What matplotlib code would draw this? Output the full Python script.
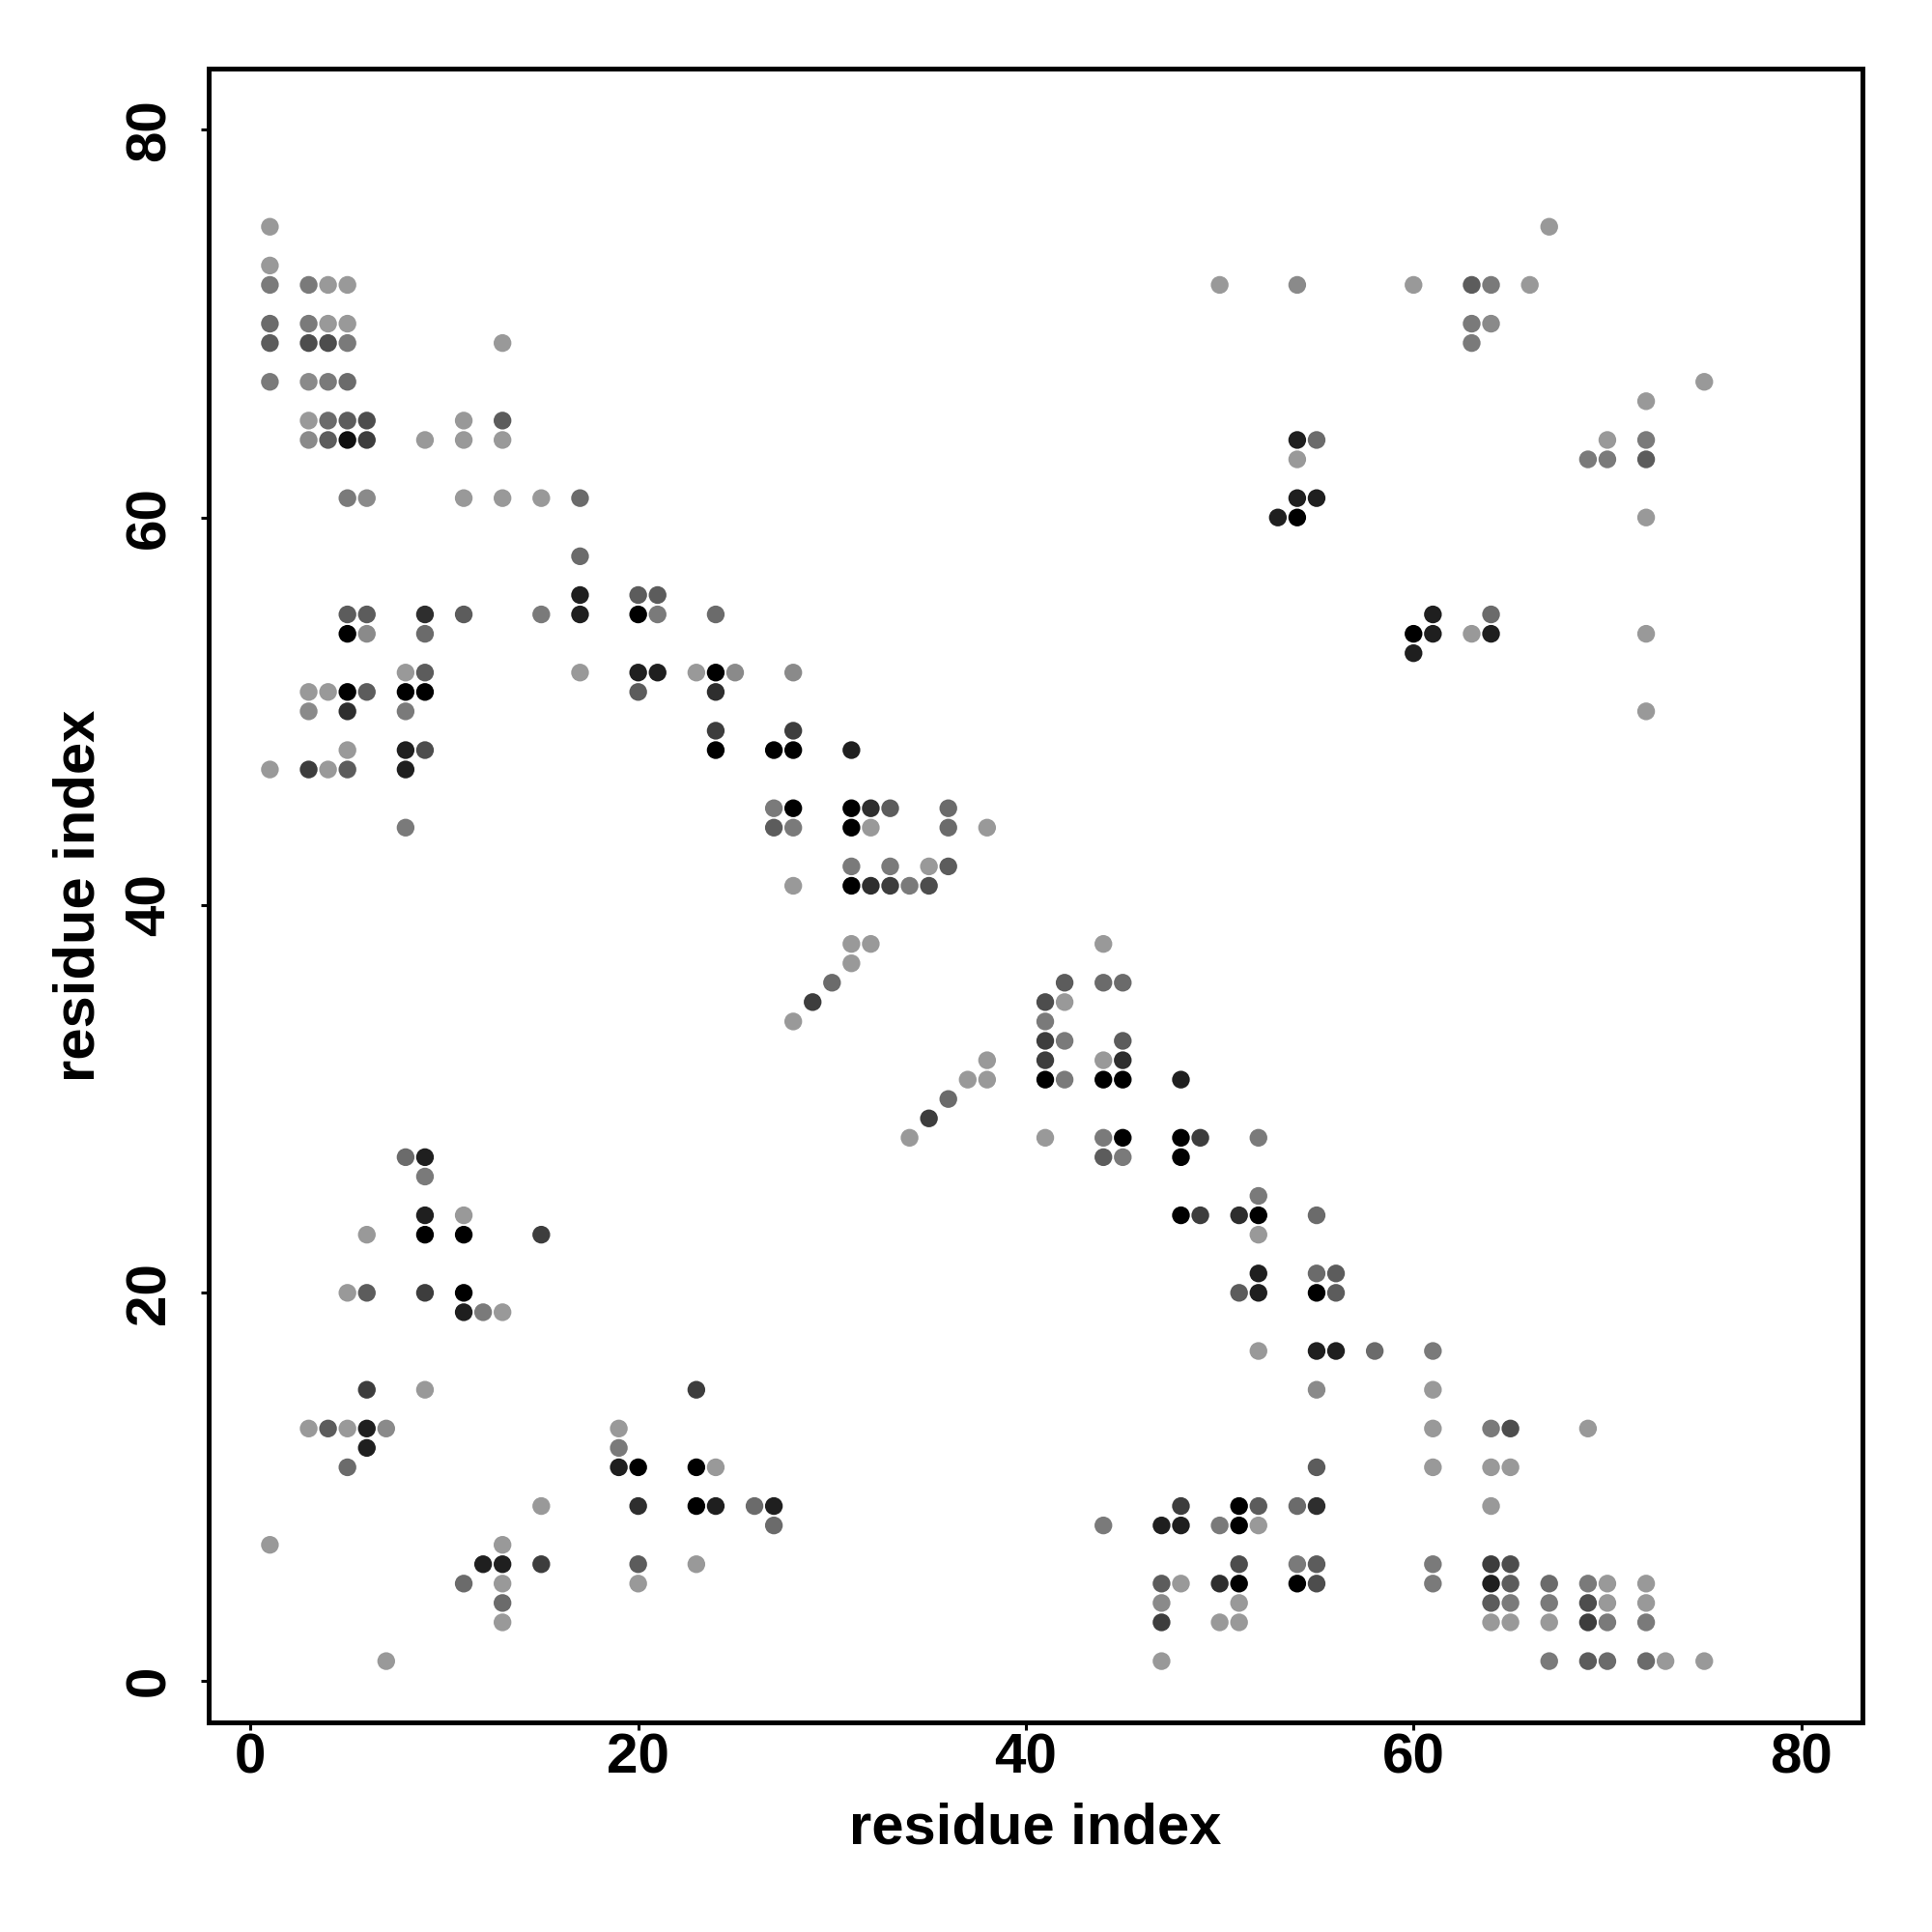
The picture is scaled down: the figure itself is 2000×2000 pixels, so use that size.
import numpy as np
import matplotlib
matplotlib.use("Agg")
import matplotlib.pyplot as plt

# contact map, read row by row (y = residue index), darker = stronger contact
rows = [75, 73, 72, 70, 69, 67, 66, 65, 64, 63, 61, 60, 58, 56, 55, 54, 53, 52,
        51, 50, 49, 48, 47, 45, 44, 42, 41, 38, 37, 36, 35, 34, 33, 32, 31, 30,
        29, 28, 27, 26, 25, 24, 23, 21, 20, 19, 17, 15, 13, 12, 11, 9, 8, 7, 6,
        5, 4, 3, 1]

row_x = [
    [1, 67],
    [1],
    [1, 3, 4, 5, 50, 54, 60, 63, 64, 66],
    [1, 3, 4, 5, 63, 64],
    [1, 3, 4, 5, 13, 63],
    [1, 3, 4, 5, 75],
    [72],
    [3, 4, 5, 6, 11, 13],
    [3, 4, 5, 6, 9, 11, 13, 54, 55, 70, 72],
    [54, 69, 70, 72],
    [5, 6, 11, 13, 15, 17, 54, 55],
    [53, 54, 72],
    [17],
    [17, 20, 21],
    [5, 6, 9, 11, 15, 17, 20, 21, 24, 61, 64],
    [5, 6, 9, 60, 61, 63, 64, 72],
    [60],
    [8, 9, 17, 20, 21, 23, 24, 25, 28],
    [3, 4, 5, 6, 8, 9, 20, 24],
    [3, 5, 8, 72],
    [24, 28],
    [5, 8, 9, 24, 27, 28, 31],
    [1, 3, 4, 5, 8],
    [27, 28, 31, 32, 33, 36],
    [8, 27, 28, 31, 32, 36, 38],
    [31, 33, 35, 36],
    [28, 31, 32, 33, 34, 35],
    [31, 32, 44],
    [31],
    [30, 42, 44, 45],
    [29, 41, 42],
    [28, 41],
    [41, 42, 45],
    [38, 41, 44, 45],
    [37, 38, 41, 42, 44, 45, 48],
    [36],
    [35],
    [34, 41, 44, 45, 48, 49, 52],
    [8, 9, 44, 45, 48],
    [9],
    [52],
    [9, 11, 48, 49, 51, 52, 55],
    [6, 9, 11, 15, 52],
    [52, 55, 56],
    [5, 6, 9, 11, 51, 52, 55, 56],
    [11, 12, 13],
    [52, 55, 56, 58, 61],
    [6, 9, 23, 55, 61],
    [3, 4, 5, 6, 7, 19, 61, 64, 65, 69],
    [6, 19],
    [5, 19, 20, 23, 24, 55, 61, 64, 65],
    [15, 20, 23, 24, 26, 27, 48, 51, 52, 54, 55, 64],
    [27, 44, 47, 48, 50, 51, 52],
    [1, 13],
    [12, 13, 15, 20, 23, 51, 54, 55, 61, 64, 65],
    [11, 13, 20, 47, 48, 50, 51, 54, 55, 61, 64, 65, 67, 69, 70, 72],
    [13, 47, 51, 64, 65, 67, 69, 70, 72],
    [13, 47, 50, 51, 64, 65, 67, 69, 70, 72],
    [7, 47, 67, 69, 70, 72, 73, 75],
]

# contact strength 0 (weak) .. 10 (strong)
row_level = [
    [0, 0],
    [0],
    [2, 2, 0, 0, 0, 1, 0, 4, 2, 0],
    [3, 2, 0, 0, 2, 1],
    [4, 5, 5, 2, 0, 2],
    [2, 1, 2, 3, 0],
    [0],
    [0, 3, 4, 5, 0, 4],
    [1, 4, 9, 6, 0, 0, 0, 8, 3, 0, 2],
    [0, 2, 2, 4],
    [2, 1, 0, 0, 0, 3, 8, 8],
    [8, 10, 0],
    [3],
    [8, 4, 4],
    [4, 4, 7, 4, 2, 8, 10, 2, 3, 8, 3],
    [10, 1, 3, 10, 8, 0, 8, 0],
    [8],
    [0, 4, 0, 8, 8, 0, 10, 1, 1],
    [0, 0, 10, 4, 10, 10, 4, 7],
    [1, 7, 2, 0],
    [6, 6],
    [0, 8, 5, 10, 10, 10, 8],
    [0, 6, 0, 4, 8],
    [2, 10, 10, 7, 4, 3],
    [2, 4, 2, 10, 0, 3, 0],
    [2, 2, 0, 4],
    [0, 10, 7, 6, 2, 5],
    [0, 0, 0],
    [0],
    [3, 4, 3, 3],
    [6, 5, 0],
    [0, 2],
    [6, 2, 4],
    [0, 6, 0, 7],
    [0, 0, 10, 2, 10, 10, 8],
    [3],
    [6],
    [0, 0, 2, 10, 10, 6, 2],
    [3, 8, 4, 2, 10],
    [2],
    [2],
    [8, 0, 10, 6, 7, 10, 3],
    [0, 10, 10, 6, 0],
    [8, 3, 4],
    [0, 4, 6, 10, 4, 8, 10, 4],
    [8, 2, 0],
    [0, 8, 8, 3, 2],
    [6, 0, 6, 1, 0],
    [0, 4, 0, 8, 1, 0, 0, 2, 5, 0],
    [8, 2],
    [3, 8, 10, 10, 0, 4, 0, 0, 0],
    [0, 7, 10, 8, 3, 8, 6, 10, 4, 3, 7, 0],
    [3, 2, 8, 8, 2, 10, 0],
    [0, 0],
    [8, 8, 6, 4, 0, 5, 2, 4, 2, 6, 5],
    [3, 0, 0, 4, 0, 7, 10, 10, 5, 2, 8, 4, 3, 2, 0, 0],
    [3, 1, 0, 4, 2, 2, 5, 0, 0],
    [0, 6, 0, 0, 0, 0, 0, 6, 2, 2],
    [0, 0, 2, 4, 3, 3, 0, 0],
]

xs, ys, lv = [], [], []
for r, xr, lr in zip(rows, row_x, row_level):
    xs += xr
    ys += [r] * len(xr)
    lv += lr
xs = np.array(xs)
ys = np.array(ys)
lv = np.array(lv, dtype=float)

gray = 0.6 * (1 - lv / 10.0)
colors = np.stack([gray, gray, gray], axis=1)

plt.rcParams['font.family'] = ['Liberation Sans', 'DejaVu Sans']
plt.rcParams['font.weight'] = 'bold'

fig = plt.figure(figsize=(20, 20), dpi=100)
ax = fig.add_axes([0.108, 0.1085, 0.856, 0.856])

ax.scatter(xs, ys, s=175, c=colors, edgecolors='none', zorder=3)

# R style axis range: 4% padding around 1..80
lo, hi = 1 - 0.04 * 79, 80 + 0.04 * 79
ax.set_xlim(lo, hi)
ax.set_ylim(lo, hi)
ax.set_xticks([0, 20, 40, 60, 80])
ax.set_yticks([0, 20, 40, 60, 80])
ax.tick_params(axis='both', direction='out', length=6, width=2.2,
               labelsize=42)
ax.tick_params(axis='x', pad=1.5)
ax.tick_params(axis='y', pad=18)
for lab in ax.get_yticklabels():
    lab.set_rotation(90)
    lab.set_va('center')
for lab in ax.get_xticklabels() + ax.get_yticklabels():
    lab.set_fontweight('bold')

for sp in ax.spines.values():
    sp.set_linewidth(3.6)

ax.set_xlabel('residue index', fontsize=43, fontweight='bold', labelpad=13)
ax.set_ylabel('residue index', fontsize=43, fontweight='bold', labelpad=14)

plt.savefig('out.png', dpi=100)
